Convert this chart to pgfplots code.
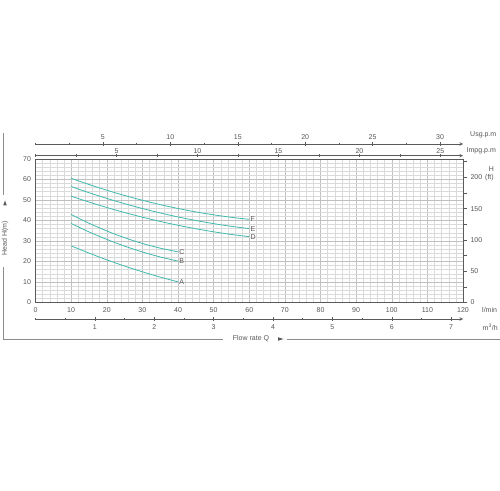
\documentclass[border=0pt]{standalone}
\usepackage{pgfplots}
\pgfplotsset{compat=1.18}
\usepackage{fontspec}
\setmainfont{Liberation Sans}

\definecolor{curve}{RGB}{64,186,174}
\definecolor{txt}{RGB}{85,85,85}
\definecolor{frame}{RGB}{90,90,90}
\definecolor{outer}{RGB}{140,140,140}
\definecolor{gmajor}{RGB}{192,192,192}
\definecolor{gminor}{RGB}{218,218,218}

\newcommand{\sz}{\fontsize{7}{8}\selectfont}

\pgfplotsset{
  scalebar/.style={
    scale only axis, width=427.5pt, height=5pt,
    hide y axis, ymin=0, ymax=1,
    axis line style={-, frame, line width=0.6pt},
    tick style={frame, line width=0.5pt},
    tick align=outside,
    major tick length=4pt, minor tick length=2.5pt,
    tick label style={font=\sz, text=txt},
    /pgf/number format/assume math mode=true,
  },
}

\begin{document}
\begin{tikzpicture}[x=1pt,y=1pt]
\useasboundingbox (0,0) rectangle (500,490);

% main head / flow grid (m, l/min)
\begin{axis}[
  at={(35.5pt,187.5pt)}, anchor=south west,
  scale only axis, width=427.5pt, height=143.7pt,
  xmin=0, xmax=120, ymin=0, ymax=70,
  xtick={0,10,...,120}, ytick={0,10,...,70},
  minor x tick num=4, minor y tick num=4,
  grid=both,
  major grid style={gmajor, line width=0.45pt},
  minor grid style={gminor, line width=0.4pt},
  major tick length=0pt, minor tick length=0pt,
  axis line style={frame, line width=0.6pt},
  tick label style={font=\sz, text=txt},
  xticklabel style={yshift=-1.5pt},
  yticklabel style={xshift=-1pt},
  /pgf/number format/assume math mode=true,
  clip=false,
]
\addplot[curve, line width=0.8pt, smooth] coordinates {
  (10,27.6) (15,24.08) (20,20.79) (25,17.75) (30,14.95) (35,12.38) (40,10.05)}
  node[right, font=\sz, text=txt, inner sep=1pt] {A};
\addplot[curve, line width=0.8pt, smooth] coordinates {
  (10,38.5) (15,34.41) (20,30.73) (25,27.47) (30,24.61) (35,22.18) (40,20.16)}
  node[right, font=\sz, text=txt, inner sep=1pt] {B};
\addplot[curve, line width=0.8pt, smooth] coordinates {
  (10,42.9) (15,38.63) (20,34.85) (25,31.56) (30,28.77) (35,26.48) (40,24.67)}
  node[right, font=\sz, text=txt, inner sep=1pt] {C};
\addplot[curve, line width=0.8pt, smooth] coordinates {
  (10,51.8) (15,48.95) (20,46.29) (25,43.83) (30,41.56) (35,39.49) (40,37.61)
  (45,35.93) (50,34.44) (55,33.15) (60,32.05)}
  node[right, font=\sz, text=txt, inner sep=1pt] {D};
\addplot[curve, line width=0.8pt, smooth] coordinates {
  (10,56.5) (15,53.5) (20,50.72) (25,48.15) (30,45.78) (35,43.63) (40,41.68)
  (45,39.95) (50,38.42) (55,37.1) (60,36.0)}
  node[right, font=\sz, text=txt, inner sep=1pt] {E};
\addplot[curve, line width=0.8pt, smooth] coordinates {
  (10,60.5) (15,57.49) (20,54.7) (25,52.14) (30,49.8) (35,47.69) (40,45.8)
  (45,44.14) (50,42.7) (55,41.49) (60,40.5)}
  node[right, font=\sz, text=txt, inner sep=1pt] {F};
\end{axis}

% head in feet, right side
\begin{axis}[
  at={(35.5pt,187.5pt)}, anchor=south west,
  scale only axis, width=427.5pt, height=143.7pt,
  xmin=0, xmax=120, ymin=0, ymax=229.66,
  hide x axis,
  axis y line=right,
  axis line style={-, frame, line width=0.6pt},
  ytick={0,50,...,200}, minor ytick={25,75,...,225},
  tick align=outside,
  major tick length=4pt, minor tick length=4pt,
  tick style={frame, line width=0.5pt},
  tick label style={font=\sz, text=txt},
  /pgf/number format/assume math mode=true,
]
\end{axis}

% US gallons per minute
\begin{axis}[scalebar,
  at={(35.5pt,346pt)}, anchor=north west,
  axis x line=top, xmin=0, xmax=31.701,
  xtick={5,10,...,30}, minor xtick={0,2.5,...,30},
  xticklabel style={yshift=-1pt},
]
\end{axis}

% imperial gallons per minute
\begin{axis}[scalebar,
  at={(35.5pt,334.3pt)}, anchor=north west,
  axis x line=top, xmin=0, xmax=26.397,
  xtick={5,10,...,25}, minor xtick={0,2.5,...,25},
  major tick length=3pt, minor tick length=2.5pt,
  xticklabel style={yshift=-2.5pt},
]
\end{axis}

% cubic metres per hour
\begin{axis}[scalebar,
  at={(35.5pt,171pt)}, anchor=south west,
  axis x line=bottom, xmin=0, xmax=7.2,
  xtick={1,...,7}, minor xtick={0,0.5,...,7},
  xticklabel style={yshift=-0.5pt},
]
\end{axis}

% unit captions
\node[anchor=west, font=\sz, text=txt, inner sep=0] at (470,355) {Usg.p.m};
\node[anchor=west, font=\sz, text=txt, inner sep=0] at (466.5,339.3) {Impg.p.m};
\node[anchor=west, font=\sz, text=txt, inner sep=0] at (482,180) {l/min};
\node[anchor=west, font=\sz, text=txt, inner sep=0] at (482.5,162.3) {m\textsuperscript{3}/h};
\node[font=\sz, text=txt, inner sep=0] at (491.5,321) {H};
\node[anchor=west, font=\sz, text=txt, inner sep=0] at (485,312.6) {(ft)};

% outer L frame with axis captions
\draw[outer, line width=0.8pt] (3,357) -- (3,295);
\draw[outer, line width=0.8pt] (3,223) -- (3,151) -- (223,151);
\draw[outer, line width=0.8pt] (287,151) -- (500,151);
\node[font=\sz, text=txt, rotate=90, inner sep=0] at (5,252) {Head H(m)};
\fill[frame] (3.2,284.5) -- (6.8,284.5) -- (5,289.5) -- cycle;
\node[font=\sz, text=txt, inner sep=0] at (251,151) {Flow rate Q};
\fill[frame] (278,149.2) -- (278,152.8) -- (283.5,151) -- cycle;
\end{tikzpicture}
\end{document}
